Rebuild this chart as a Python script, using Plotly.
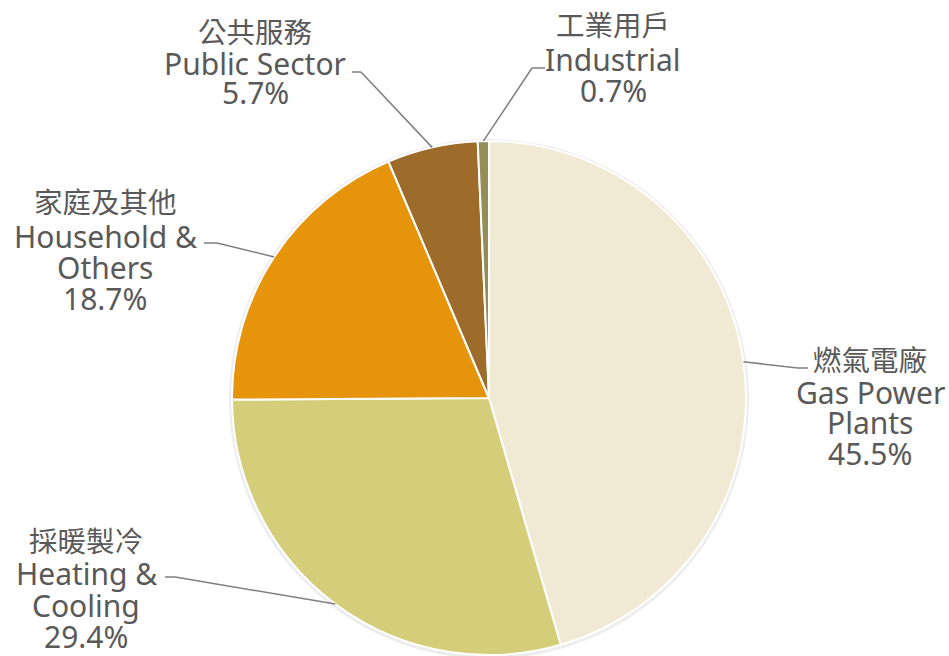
import math
import plotly.graph_objects as go

# ---- data ----
labels_zh = ["燃氣電廠", "採暖製冷", "家庭及其他", "公共服務", "工業用戶"]
labels_en = [["Gas Power", "Plants"], ["Heating &", "Cooling"], ["Household &", "Others"],
             ["Public Sector"], ["Industrial"]]
shares = [45.5, 29.4, 18.7, 5.7, 0.7]
colors = ["#F0E9D3", "#D4CD79", "#E6940C", "#9D6C2A", "#948D57"]

# ---- layout (pixels) ----
W, H = 949, 656
CX, CY, R = 489, 398, 257
# label line centres (x, [y per line]) and leader elbow/end points (pixel coords)
label_x = [870, 86, 105, 255, 613]
label_ys = [[360, 392, 422, 453], [541, 573, 605, 636], [202, 236, 268, 298],
            [32, 63, 93], [25, 59, 91]]
elbows = [((798, 368), (808, 368)), ((175, 577), (165, 577)), ((217, 243), (204, 243)),
          ((361, 72), (352, 72)), ((532, 68), (545, 68))]

def px(x):
    return x / W

def py(y):
    return 1 - y / H

fig = go.Figure(go.Pie(
    labels=[z + " " + " ".join(e) for z, e in zip(labels_zh, labels_en)],
    values=shares,
    sort=False,
    direction="clockwise",
    rotation=0,
    marker=dict(colors=colors, line=dict(color="white", width=2)),
    textinfo="none",
    hoverinfo="label+percent",
    showlegend=False,
    domain=dict(x=[px(CX - R), px(CX + R)], y=[py(CY + R), py(CY - R)]),
))

shapes = [dict(type="circle", xref="paper", yref="paper", layer="below",
               x0=px(CX - R - 3), x1=px(CX + R + 3), y0=py(CY + R + 4), y1=py(CY - R - 2),
               fillcolor="#EDEDED", line=dict(width=0))]
annotations = []
total = sum(shares)
cum = 0
FONT = "Noto Sans, Noto Sans CJK TC"
for i, v in enumerate(shares):
    mid = (cum + v / 2) / total * 2 * math.pi
    cum += v
    ex = CX + R * math.sin(mid)
    ey = CY - R * math.cos(mid)
    (bx, by), (tx, ty) = elbows[i]
    for (x0, y0, x1, y1) in [(ex, ey, bx, by), (bx, by, tx, ty)]:
        shapes.append(dict(type="line", xref="paper", yref="paper",
                           x0=px(x0), y0=py(y0), x1=px(x1), y1=py(y1),
                           line=dict(color="#7F7F7F", width=1.5)))
    lines = [(labels_zh[i], 28.5)] + [(t, 30) for t in labels_en[i]] + [(f"{v:.1f}%", 30)]
    for (txt, size), ly in zip(lines, label_ys[i]):
        annotations.append(dict(
            x=px(label_x[i]), y=py(ly), xref="paper", yref="paper",
            xanchor="center", yanchor="middle", showarrow=False,
            text=txt, font=dict(size=size, color="#595959", family=FONT),
        ))

fig.update_layout(
    width=W, height=H,
    margin=dict(l=0, r=0, t=0, b=0),
    paper_bgcolor="white", plot_bgcolor="white",
    shapes=shapes, annotations=annotations,
)

fig.write_html("out.html", config={"displayModeBar": False},
               post_script="document.body.style.margin='0';document.body.style.overflow='hidden';")
